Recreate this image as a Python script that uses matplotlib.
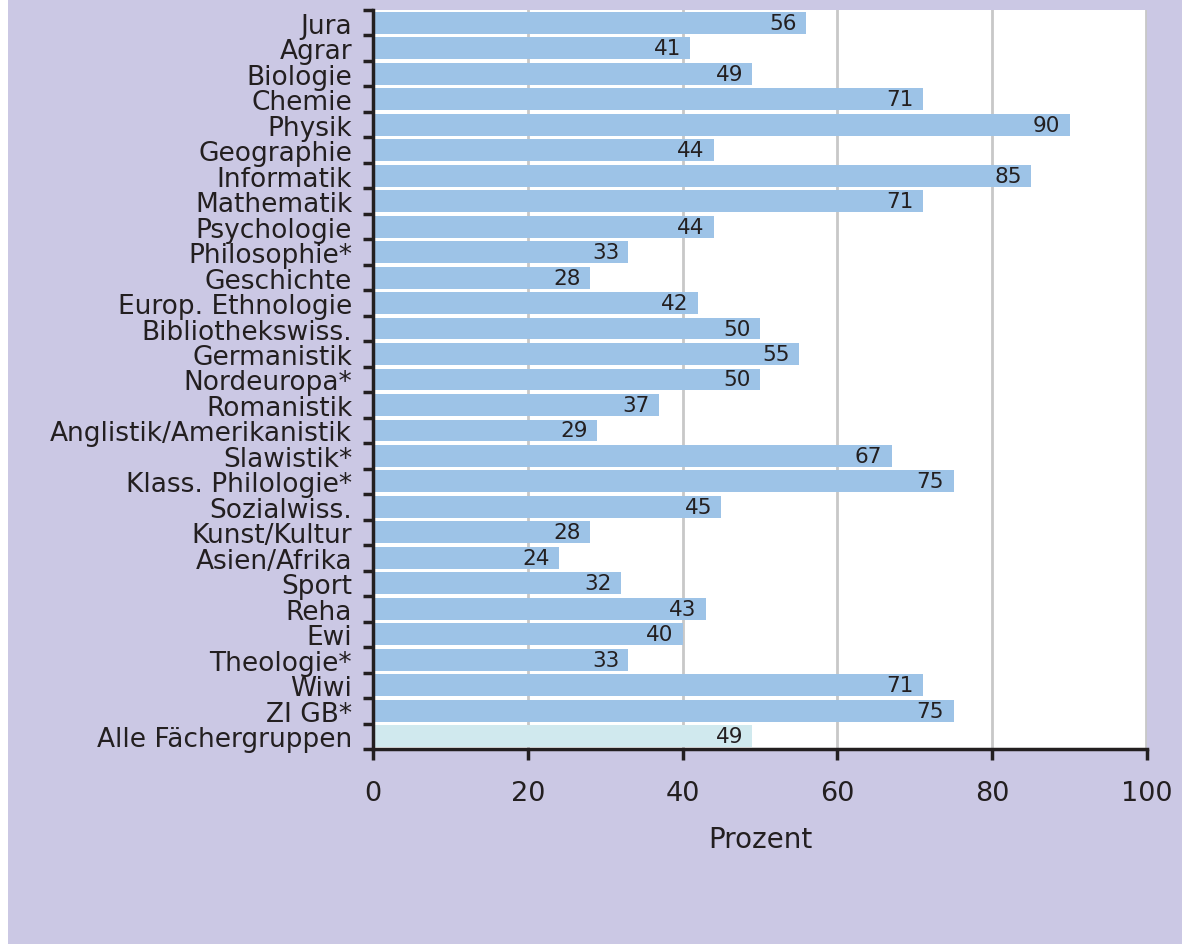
import numpy as np
import matplotlib
matplotlib.use("Agg")
import matplotlib.pyplot as plt
from matplotlib.patches import Rectangle

# Anteile je Fächergruppe (Prozent), von oben nach unten
faecher = ["Jura", "Agrar", "Biologie", "Chemie", "Physik", "Geographie",
           "Informatik", "Mathematik", "Psychologie", "Philosophie*",
           "Geschichte", "Europ. Ethnologie", "Bibliothekswiss.",
           "Germanistik", "Nordeuropa*", "Romanistik",
           "Anglistik/Amerikanistik", "Slawistik*", "Klass. Philologie*",
           "Sozialwiss.", "Kunst/Kultur", "Asien/Afrika", "Sport", "Reha",
           "Ewi", "Theologie*", "Wiwi", "ZI GB*", "Alle Fächergruppen"]
werte = [56, 41, 49, 71, 90, 44, 85, 71, 44, 33, 28, 42, 50, 55, 50, 37,
         29, 67, 75, 45, 28, 24, 32, 43, 40, 33, 71, 75, 49]
x_ticks = [0, 20, 40, 60, 80, 100]

lila = "#cbc8e4"
blau = "#9dc3e7"
hell = "#d0e9ee"
text_c = "#231f20"

plt.rcParams["font.family"] = "DejaVu Sans"

fig = plt.figure(figsize=(11.82, 9.45), dpi=100)
fig.patch.set_facecolor("white")
fig.patches.append(Rectangle((8 / 1182, 0), 1, 1, transform=fig.transFigure,
                             facecolor=lila, edgecolor="none", zorder=-10))

ax = fig.add_axes([373 / 1182, 1 - 750 / 945, 774 / 1182, 739 / 945])
ax.set_facecolor("white")

n = len(faecher)
y = np.arange(n)
farben = [blau] * (n - 1) + [hell]
ax.barh(y, werte, height=0.86, color=farben, zorder=2)

for yi, w in zip(y, werte):
    ax.text(w - 1.2, yi, str(w), ha="right", va="center",
            fontsize=15.5, color=text_c, zorder=3)

ax.set_xlim(0, 100)
ax.set_ylim(n - 0.5, -0.5)

ax.set_xticks(x_ticks)
ax.set_xticklabels([str(t) for t in x_ticks], fontsize=19.5, color=text_c)
ax.tick_params(axis="x", direction="out", length=8, width=2.5,
               color=text_c, pad=14)
for t in x_ticks[1:-1]:
    ax.axvline(t, color="#c8c8c8", lw=2, zorder=1)
ax.axvline(99.85, color="#c8c8c8", lw=2, zorder=1)

ax.set_yticks(y)
ax.set_yticklabels(faecher, fontsize=19, color=text_c)
ax.tick_params(axis="y", which="major", length=0, pad=15)
ax.set_yticks(np.arange(n + 1) - 0.5, minor=True)
ax.tick_params(axis="y", which="minor", direction="out", length=7,
               width=2.5, color=text_c)

ax.set_xlabel("Prozent", fontsize=20, color=text_c, labelpad=14)

for s in ["top", "right"]:
    ax.spines[s].set_visible(False)
for s in ["left", "bottom"]:
    ax.spines[s].set_linewidth(2.5)
    ax.spines[s].set_color(text_c)
    ax.spines[s].set_zorder(4)

fig.savefig("out.png", dpi=100, facecolor=fig.get_facecolor())
